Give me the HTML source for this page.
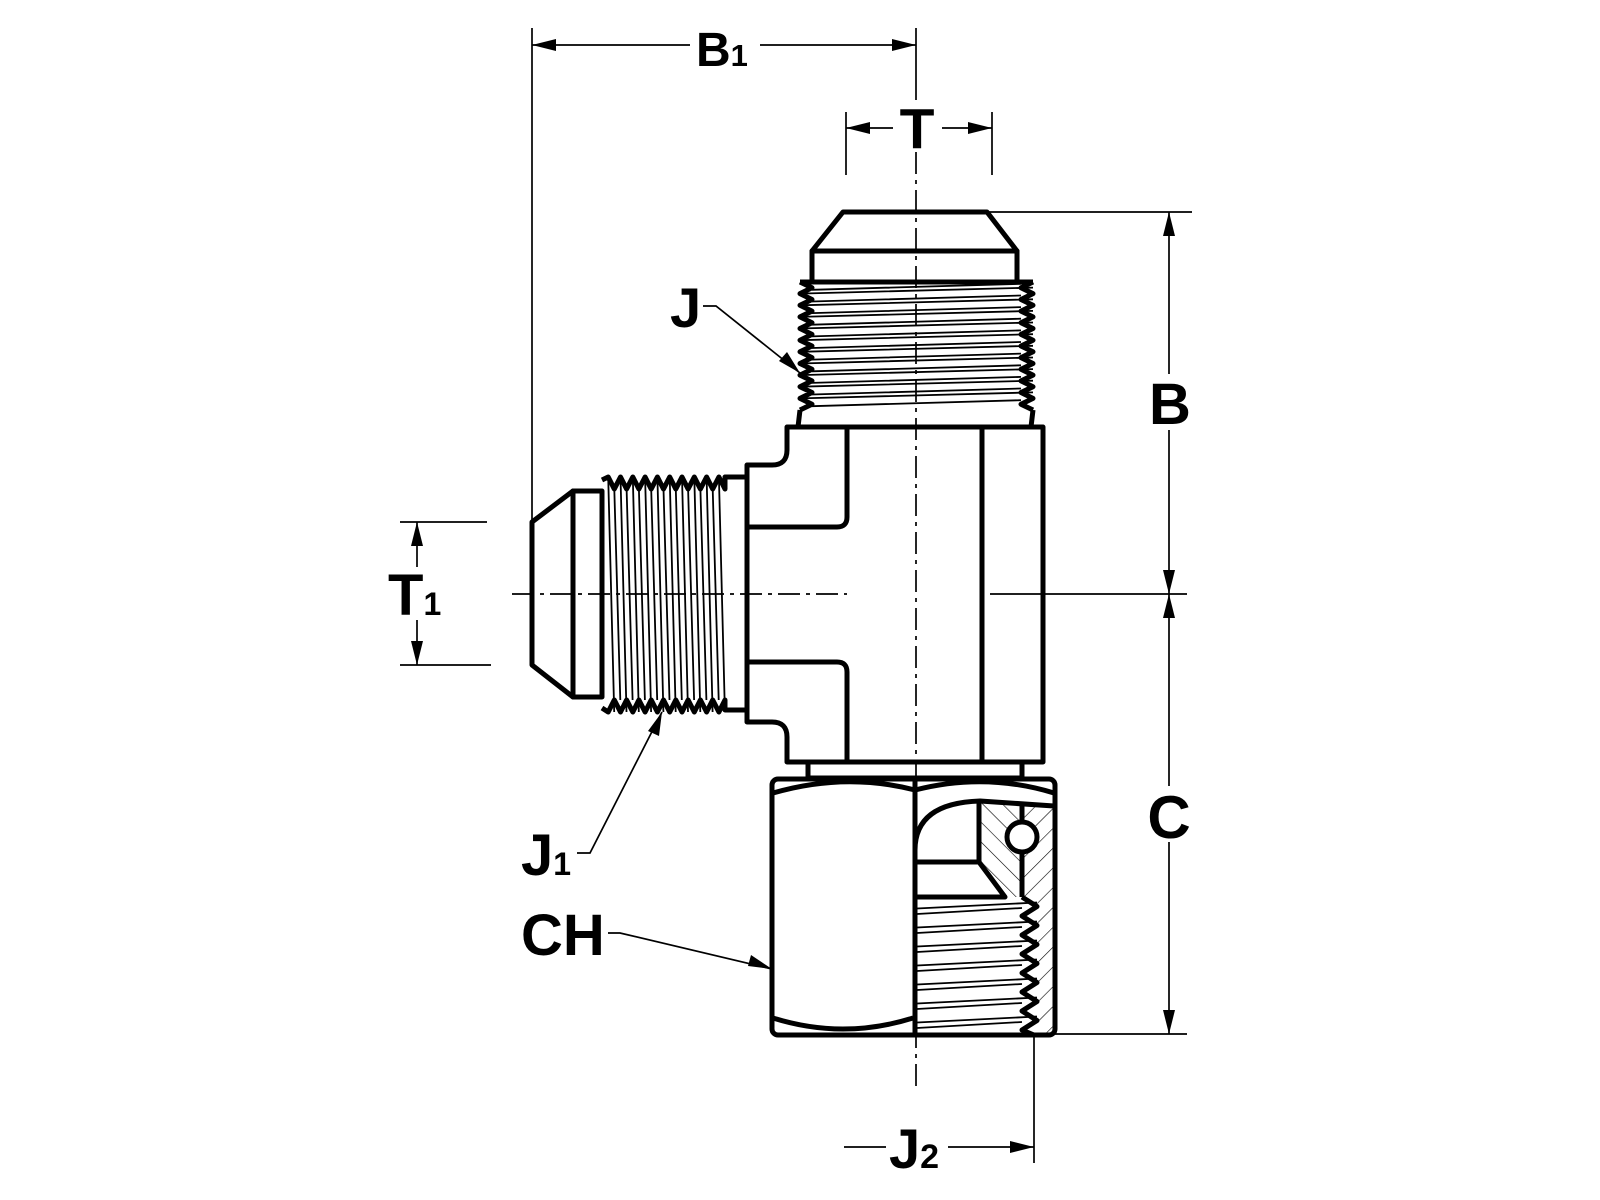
<!DOCTYPE html>
<html><head><meta charset="utf-8"><style>
html,body{margin:0;padding:0;background:#fff;}
svg{display:block}
text{font-family:"Liberation Sans",Arial,sans-serif;font-weight:bold;fill:#000}
</style></head><body>
<svg width="1600" height="1200" viewBox="0 0 1600 1200" xmlns="http://www.w3.org/2000/svg">
<defs>
<pattern id="pa" patternUnits="userSpaceOnUse" width="14" height="14" patternTransform="rotate(45)"><line x1="0" y1="0" x2="0" y2="14" stroke="#000" stroke-width="1.2"/></pattern>
<pattern id="pb" patternUnits="userSpaceOnUse" width="14" height="14" patternTransform="rotate(-45)"><line x1="0" y1="0" x2="0" y2="14" stroke="#000" stroke-width="1.2"/></pattern>
</defs>
<rect width="1600" height="1200" fill="#fff"/>
<polygon points="1022,803 1053,806 1053,1033 1037,1033 1037,897 1022,897" fill="url(#pa)"/>
<polygon points="979,803 1022,803 1022,897 1005,897 979,862" fill="url(#pb)"/>
<!-- centerlines & dims -->
<g stroke="#000" stroke-width="1.7" fill="none">
<line x1="916" y1="28" x2="916" y2="100"/>
<line x1="916" y1="152" x2="916" y2="1090" stroke-dasharray="22,6,4,6"/>
<line x1="512" y1="594" x2="847" y2="594" stroke-dasharray="22,6,4,6"/>
<line x1="990" y1="594" x2="1187" y2="594"/>
<line x1="532" y1="28" x2="532" y2="520"/>
<line x1="532" y1="45" x2="690" y2="45"/>
<line x1="760" y1="45" x2="916" y2="45"/>
<line x1="846" y1="112" x2="846" y2="175"/>
<line x1="992" y1="112" x2="992" y2="175"/>
<line x1="846" y1="128" x2="893" y2="128"/>
<line x1="942" y1="128" x2="992" y2="128"/>
<line x1="987" y1="212" x2="1192" y2="212"/>
<line x1="1169" y1="212" x2="1169" y2="374"/>
<line x1="1169" y1="430" x2="1169" y2="786"/>
<line x1="1169" y1="842" x2="1169" y2="1034"/>
<line x1="1055" y1="1034" x2="1187" y2="1034"/>
<line x1="400" y1="522" x2="487" y2="522"/>
<line x1="400" y1="665" x2="491" y2="665"/>
<line x1="417" y1="522" x2="417" y2="567"/>
<line x1="417" y1="620" x2="417" y2="665"/>
<line x1="1034" y1="1035" x2="1034" y2="1163"/>
<line x1="844" y1="1147" x2="886" y2="1147"/>
<line x1="948" y1="1147" x2="1034" y2="1147"/>
<polyline points="703,306 716,306 800,373"/>
<polyline points="577,853 590,853 662,712"/>
<polyline points="608,933 620,933 772,969"/>
</g>
<g fill="#000">
<polygon points="532,45 556,39 556,51"/>
<polygon points="916,45 892,39 892,51"/>
<polygon points="846,128 870,122 870,134"/>
<polygon points="992,128 968,122 968,134"/>
<polygon points="1169,212 1163,236 1175,236"/>
<polygon points="1169,594 1163,570 1175,570"/>
<polygon points="1169,594 1163,618 1175,618"/>
<polygon points="1169,1034 1163,1010 1175,1010"/>
<polygon points="417,522 411,546 423,546"/>
<polygon points="417,665 411,641 423,641"/>
<polygon points="1034,1147 1010,1141 1010,1153"/>
<polygon points="800,373 779,361 787,352"/>
<polygon points="662,712 648,731 659,736"/>
<polygon points="772,969 748,966 751,955"/>
</g>
<!-- thin thread lines -->
<g stroke="#000" stroke-width="1.8" fill="none">
<path d="M800,293.6L1033,287.6M800,305.3L1033,299.3M800,316.9L1033,310.9M800,328.5L1033,322.5M800,340.2L1033,334.2M800,351.8L1033,345.8M800,363.5L1033,357.5M800,375.1L1033,369.1M800,386.7L1033,380.7M800,398.4L1033,392.4
M812,289.8L1021,283.8M812,301.5L1021,295.5M812,313.1L1021,307.1M812,324.7L1021,318.7M812,336.4L1021,330.4M812,348L1021,342M812,359.6L1021,353.6M812,371.3L1021,365.3M812,382.9L1021,376.9M812,394.5L1021,388.5M812,406.2L1021,400.2"/>
<path d="M608.2,477L614.2,712M620.5,477L626.5,712M632.8,477L638.8,712M645.1,477L651.1,712M657.4,477L663.4,712M669.7,477L675.7,712M682,477L688,712M694.3,477L700.3,712M706.6,477L712.6,712M718.9,477L724.9,712
M614.3,489L620.3,700M626.6,489L632.6,700M638.9,489L644.9,700M651.2,489L657.2,700M663.5,489L669.5,700M675.8,489L681.8,700M688.1,489L694.1,700M700.4,489L706.4,700M712.7,489L718.7,700"/>
<path d="M917,914L1022,908M917,933L1022,927M917,952L1022,946M917,971L1022,965M917,990L1022,984M917,1009L1022,1003M917,1028L1022,1022
M917,908.5L1037,902.5M917,927.5L1037,921.5M917,946.5L1037,940.5M917,965.5L1037,959.5M917,984.5L1037,978.5M917,1003.5L1037,997.5M917,1022.5L1037,1016.5"/>
</g>
<!-- part outlines -->
<g stroke="#000" stroke-width="5" fill="none" stroke-linejoin="round">
<polygon points="843,212 987,212 1017,251 812,251"/>
<rect x="812" y="251" width="205" height="31"/>
<line x1="800" y1="282" x2="1033" y2="282"/>
<path d="M800,282 L812,287.8 L800,293.6 L812,299.5 L800,305.3 L812,311.1 L800,316.9 L812,322.7 L800,328.5 L812,334.4 L800,340.2 L812,346 L800,351.8 L812,357.6 L800,363.5 L812,369.3 L800,375.1 L812,380.9 L800,386.7 L812,392.5 L800,398.4 L812,404.2 L800,410"/>
<path d="M1033,282 L1021,287.8 L1033,293.6 L1021,299.5 L1033,305.3 L1021,311.1 L1033,316.9 L1021,322.7 L1033,328.5 L1021,334.4 L1033,340.2 L1021,346 L1033,351.8 L1021,357.6 L1033,363.5 L1021,369.3 L1033,375.1 L1021,380.9 L1033,386.7 L1021,392.5 L1033,398.4 L1021,404.2 L1033,410"/>
<polyline points="800,410 798,427 1031,427 1033,410"/>
<path d="M787,427 L1043,427 L1043,762 L787,762 L787,737 Q787,722 772,722 L747,722 L747,465 L772,465 Q787,465 787,450 Z"/>
<path d="M847,427 L847,517 Q847,527 837,527 L747,527"/>
<path d="M847,762 L847,672 Q847,662 837,662 L747,662"/>
<line x1="982" y1="427" x2="982" y2="762"/>
<polyline points="808,762 808,778 1022,778 1022,762"/>
<polygon points="532,522 573,491 573,697 532,665"/>
<rect x="573" y="491" width="29" height="206"/>
<path d="M602,480 L608.2,477 L614.3,489 L620.5,477 L626.6,489 L632.8,477 L638.9,489 L645.1,477 L651.2,489 L657.4,477 L663.5,489 L669.7,477 L675.8,489 L682,477 L688.1,489 L694.3,477 L700.4,489 L706.6,477 L712.7,489 L718.9,477 L725,489 L725,477 L747,477"/>
<path d="M602,708 L608.2,712 L614.3,700 L620.5,712 L626.6,700 L632.8,712 L638.9,700 L645.1,712 L651.2,700 L657.4,712 L663.5,700 L669.7,712 L675.8,700 L682,712 L688.1,700 L694.3,712 L700.4,700 L706.6,712 L712.7,700 L718.9,712 L725,700 L725,710 L747,710"/>
<rect x="772" y="779" width="283" height="256" rx="6"/>
<line x1="915" y1="779" x2="915" y2="1035"/>
<path d="M773,793 Q845,772 915,790 Q985,772 1054,793"/>
<path d="M773,1018 Q843,1040 913,1018"/>
<path d="M915,850 Q915,803 980,801 L1054,806"/>
<polyline points="979,801 979,862 915,862"/>
<polyline points="979,862 1005,897 915,897"/>
<line x1="1022" y1="853" x2="1022" y2="897"/>
<line x1="1022" y1="803" x2="1022" y2="822"/>
<circle cx="1022" cy="837" r="15" fill="#fff"/>
<path d="M1022,897 L1037,906.5 L1022,916 L1037,925.5 L1022,935 L1037,944.5 L1022,954 L1037,963.5 L1022,973 L1037,982.5 L1022,992 L1037,1001.5 L1022,1011 L1037,1020.5 L1022,1030 L1034,1035"/>
</g>
<!-- labels -->
<text x="696" y="66" font-size="48">B<tspan font-size="31">1</tspan></text>
<text x="917" y="148" font-size="57" text-anchor="middle">T</text>
<text x="670" y="327" font-size="56">J</text>
<text x="1170" y="424" font-size="58" text-anchor="middle">B</text>
<text x="1169" y="838" font-size="60" text-anchor="middle">C</text>
<text x="388" y="615" font-size="58">T<tspan font-size="32">1</tspan></text>
<text x="521" y="875" font-size="58">J<tspan font-size="32">1</tspan></text>
<text x="521" y="955" font-size="58">CH</text>
<text x="889" y="1168" font-size="56">J<tspan font-size="34">2</tspan></text>
</svg>
</body></html>
